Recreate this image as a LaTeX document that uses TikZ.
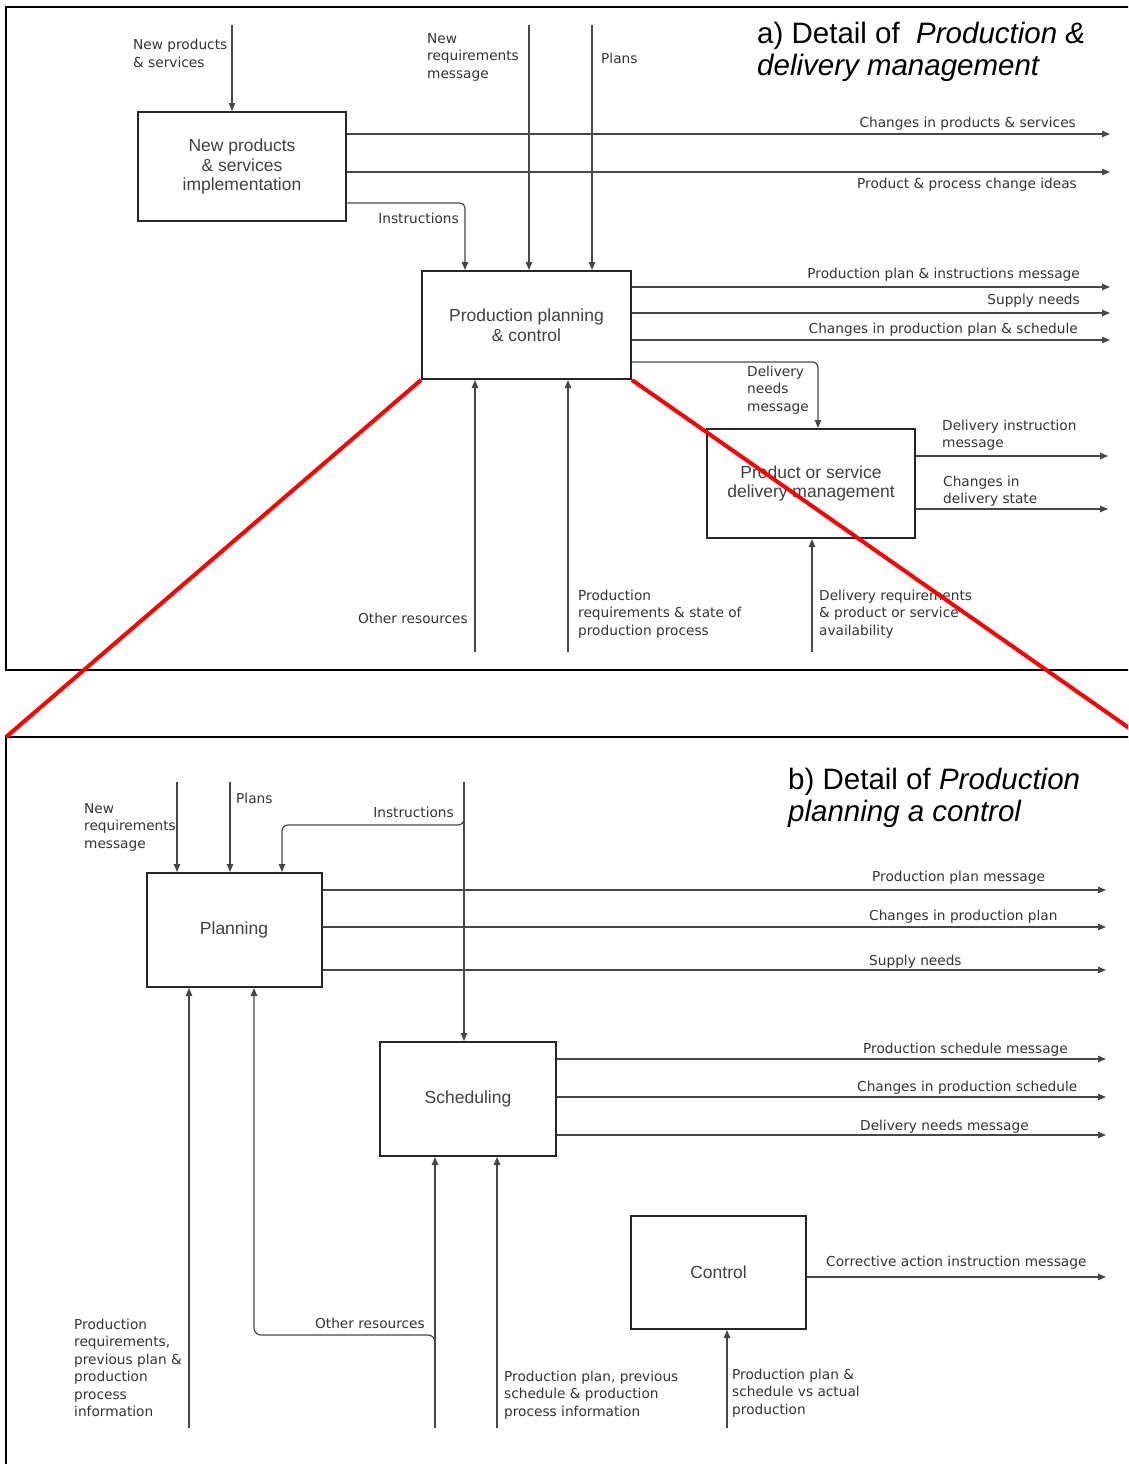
\documentclass[tikz,border=0pt]{standalone}
\usepackage{fontspec}
\setmainfont{Liberation Sans}
\newfontfamily\lblfont{DejaVu Sans}
\usetikzlibrary{arrows.meta}

\begin{document}
\begin{tikzpicture}[x=1pt,y=-1pt,
  frame/.style={line width=2pt,black},
  proc/.style={draw=black!85,line width=2pt,inner sep=0pt,align=center,
    text=black!75,font=\fontsize{17.5}{19.5}\selectfont},
  flow/.style={draw=black!72,line width=1.2pt,-{Triangle[length=8pt,width=6.5pt]}},
  lbl/.style={font={\lblfont\fontsize{13.7}{17.5}\selectfont},text=black!80,
    inner sep=0pt,align=left},
  title/.style={font=\fontsize{29.5}{32}\selectfont,inner sep=0pt,align=left,anchor=west},
  zoomline/.style={draw=red,line width=4pt}]
\useasboundingbox (0,0) rectangle (1128,1464);
\clip (0,0) rectangle (1128,1464);

% ---------- panel a ----------
\draw[frame] (1140,7) -- (6,7) -- (6,670) -- (1140,670);
\node[title] (ta) at (757,52) {a) Detail of \ \textit{Production \&}\\\textit{delivery management}};

\node[proc,minimum width=208.5pt,minimum height=109pt] (npsi) at (242,166.5)
  {New products\\\& services\\implementation};
\node[proc,minimum width=209pt,minimum height=108pt] (ppc) at (526.5,325)
  {Production planning\\\& control};
\node[proc,minimum width=208pt,minimum height=109pt] (psdm) at (811,483.5)
  {Product or service\\delivery management};

% inputs from above
\coordinate (npsIn) at (232,25);
\coordinate (reqIn) at (529,25);
\coordinate (plansIn) at (592,25);
\draw[flow] (npsIn) -- (npsIn |- npsi.north);
\draw[flow] (reqIn) -- (reqIn |- ppc.north);
\draw[flow] (plansIn) -- (plansIn |- ppc.north);
\node[lbl,anchor=west] (lNps) at (133,53.5) {New products\\\& services};
\node[lbl,anchor=west] (lReq) at (427,57) {New\\requirements\\message};
\node[lbl,anchor=west] (lPlans) at (601,58) {Plans};

% outputs of the implementation box
\coordinate (chgPS) at (1110,134);
\coordinate (ideas) at (1110,172);
\draw[flow] (npsi.east |- chgPS) -- (chgPS);
\draw[flow] (npsi.east |- ideas) -- (ideas);
\node[lbl,anchor=east] (lChgPS) at (1076,124) {Changes in products \& services};
\node[lbl,anchor=east] (lIdeas) at (1077,185) {Product \& process change ideas};
\coordinate (instrTurn) at (465,203);
\draw[flow,rounded corners=5pt] (npsi.east |- instrTurn) -- (instrTurn) -- (instrTurn |- ppc.north);
\node[lbl,anchor=east] (lInstr) at (459,218) {Instructions};

% outputs of production planning & control
\coordinate (oPlan) at (1110,287);
\coordinate (oSupply) at (1110,313);
\coordinate (oChgPlan) at (1110,340);
\draw[flow] (ppc.east |- oPlan) -- (oPlan);
\draw[flow] (ppc.east |- oSupply) -- (oSupply);
\draw[flow] (ppc.east |- oChgPlan) -- (oChgPlan);
\node[lbl,anchor=east] (lPlan) at (1080,275) {Production plan \& instructions message};
\node[lbl,anchor=east] (lSupply) at (1080,301) {Supply needs};
\node[lbl,anchor=east] (lChgPlan) at (1078,330) {Changes in production plan \& schedule};
\coordinate (delTurn) at (818,362);
\draw[flow,rounded corners=5pt] (ppc.east |- delTurn) -- (delTurn) -- (delTurn |- psdm.north);
\node[lbl,anchor=west] (lDelNeeds) at (747,390) {Delivery\\needs\\message};

% inputs from below
\coordinate (othIn) at (475,652);
\coordinate (prodReqIn) at (568,652);
\coordinate (delReqIn) at (812,652);
\draw[flow] (othIn) -- (othIn |- ppc.south);
\draw[flow] (prodReqIn) -- (prodReqIn |- ppc.south);
\draw[flow] (delReqIn) -- (delReqIn |- psdm.south);
\node[lbl,anchor=east] (lOth) at (468,618) {Other resources};
\node[lbl,anchor=west] (lProdReq) at (578,614) {Production\\requirements \& state of\\production process};
\node[lbl,anchor=west] (lDelReq) at (819,614) {Delivery requirements\\\& product or service\\availability};

% outputs of delivery management
\coordinate (oDelInstr) at (1108,456);
\coordinate (oDelState) at (1108,509);
\draw[flow] (psdm.east |- oDelInstr) -- (oDelInstr);
\draw[flow] (psdm.east |- oDelState) -- (oDelState);
\node[lbl,anchor=west] (lDelInstr) at (942,435) {Delivery instruction\\message};
\node[lbl,anchor=west] (lDelState) at (943,491) {Changes in\\delivery state};

% ---------- panel b ----------
\draw[frame] (1140,737) -- (6,737) -- (6,1480);
\node[title] (tb) at (788,798) {b) Detail of \textit{Production}\\\textit{planning a control}};

\node[proc,minimum width=175pt,minimum height=114pt] (plan) at (234,930) {Planning};
\node[proc,minimum width=176pt,minimum height=114pt] (sched) at (468,1099) {Scheduling};
\node[proc,minimum width=175pt,minimum height=113pt] (ctrl) at (718.5,1272.5) {Control};

% inputs from above
\coordinate (bReqIn) at (177,782);
\coordinate (bPlansIn) at (230,782);
\coordinate (bInstrIn) at (464,782);
\coordinate (bInstrTurn) at (464,825);
\coordinate (bInstrDrop) at (282,825);
\draw[flow] (bReqIn) -- (bReqIn |- plan.north);
\draw[flow] (bPlansIn) -- (bPlansIn |- plan.north);
\draw[flow] (bInstrIn) -- (bInstrIn |- sched.north);
\draw[flow,rounded corners=6pt] (464,812) -- (bInstrTurn) -- (bInstrDrop) -- (bInstrDrop |- plan.north);
\node[lbl,anchor=west] (lbReq) at (84,827) {New\\requirements\\message};
\node[lbl,anchor=west] (lbPlans) at (236,798) {Plans};
\node[lbl,anchor=east] (lbInstr) at (454,812) {Instructions};

% outputs of planning
\coordinate (bPlanMsg) at (1106,890);
\coordinate (bChgPlan) at (1106,927);
\coordinate (bSupply) at (1106,970);
\draw[flow] (plan.east |- bPlanMsg) -- (bPlanMsg);
\draw[flow] (plan.east |- bChgPlan) -- (bChgPlan);
\draw[flow] (plan.east |- bSupply) -- (bSupply);
\node[lbl,anchor=west] (lbPlanMsg) at (872,878) {Production plan message};
\node[lbl,anchor=west] (lbChgPlan) at (869,917) {Changes in production plan};
\node[lbl,anchor=west] (lbSupply) at (869,962) {Supply needs};

% outputs of scheduling
\coordinate (bSchMsg) at (1106,1059);
\coordinate (bChgSch) at (1106,1097);
\coordinate (bDelNeeds) at (1106,1135);
\draw[flow] (sched.east |- bSchMsg) -- (bSchMsg);
\draw[flow] (sched.east |- bChgSch) -- (bChgSch);
\draw[flow] (sched.east |- bDelNeeds) -- (bDelNeeds);
\node[lbl,anchor=west] (lbSchMsg) at (863,1050) {Production schedule message};
\node[lbl,anchor=west] (lbChgSch) at (857,1088) {Changes in production schedule};
\node[lbl,anchor=west] (lbDelNeeds) at (860,1127) {Delivery needs message};

% output of control
\coordinate (bCorr) at (1106,1277);
\draw[flow] (ctrl.east |- bCorr) -- (bCorr);
\node[lbl,anchor=west] (lbCorr) at (826,1263) {Corrective action instruction message};

% inputs from below
\coordinate (bPrevIn) at (189,1428);
\coordinate (bOthIn) at (435,1428);
\coordinate (bOthTurn) at (435,1335);
\coordinate (bOthRise) at (254,1335);
\coordinate (bSchIn) at (497,1428);
\coordinate (bCtrlIn) at (727,1428);
\draw[flow] (bPrevIn) -- (bPrevIn |- plan.south);
\draw[flow] (bOthIn) -- (bOthIn |- sched.south);
\draw[flow,rounded corners=7pt] (435,1350) -- (bOthTurn) -- (bOthRise) -- (bOthRise |- plan.south);
\draw[flow] (bSchIn) -- (bSchIn |- sched.south);
\draw[flow] (bCtrlIn) -- (bCtrlIn |- ctrl.south);
\node[lbl,anchor=west] (lbPrev) at (74,1368)
  {Production\\requirements,\\previous plan \&\\production\\process\\information};
\node[lbl,anchor=east] (lbOth) at (425,1323) {Other resources};
\node[lbl,anchor=west] (lbSchIn) at (504,1395)
  {Production plan, previous\\schedule \& production\\process information};
\node[lbl,anchor=west] (lbCtrlIn) at (732,1393)
  {Production plan \&\\schedule vs actual\\production};

% ---------- zoom lines linking the panels ----------
\coordinate (zLeft) at (6,737);
\coordinate (zRight) at (1132,730);
\draw[zoomline] (ppc.south west) -- (zLeft);
\draw[zoomline] (ppc.south east) -- (zRight);
\end{tikzpicture}
\end{document}
